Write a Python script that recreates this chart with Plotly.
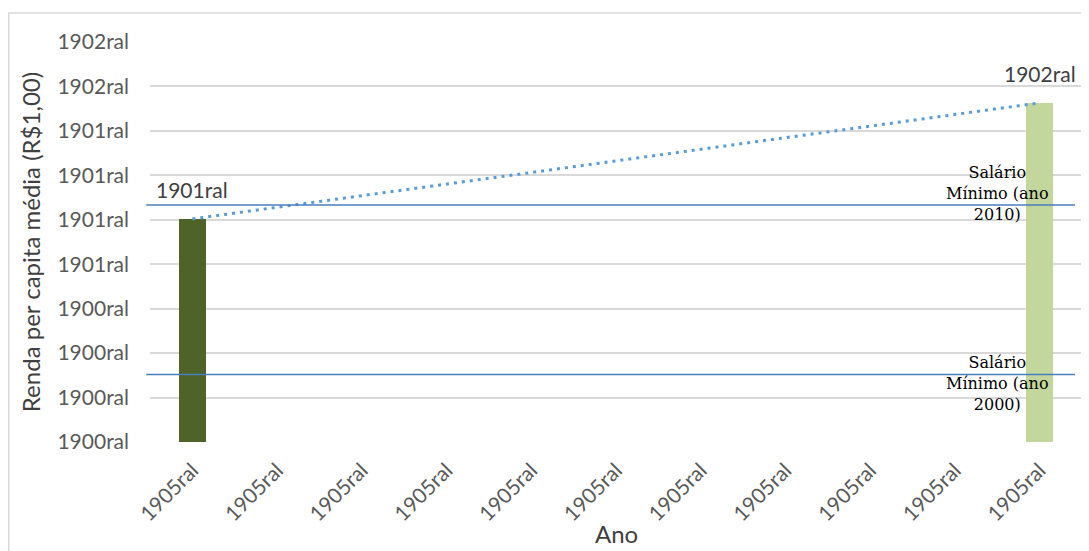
import numpy as np
import plotly.graph_objects as go

# ---- data ----
x_positions = list(range(11))
x_tick_labels = ["1905ral"] * 11
y_tick_values = list(range(10))
y_tick_labels = ["1900ral", "1900ral", "1900ral", "1900ral", "1901ral",
                 "1901ral", "1901ral", "1901ral", "1902ral", "1902ral"]
renda_values = [5.02, None, None, None, None, None, None, None, None, None, 7.63]
renda_labels = ["1901ral", "", "", "", "", "", "", "", "", "", "1902ral"]
bar_colors = ["#4F6228"] + ["#4F6228"] * 9 + ["#C3D69B"]
salario_values = [5.33, 1.52]
salario_labels = ["Salário<br>Mínimo (ano<br>2010)", "Salário<br>Mínimo (ano<br>2000)"]

SANS = "Lato"
SERIF = "DejaVu Serif"

fig = go.Figure()

fig.add_trace(go.Bar(
    x=x_positions, y=[v if v is not None else 0 for v in renda_values],
    marker=dict(color=bar_colors, line=dict(width=0)),
    width=0.32, showlegend=False, hoverinfo="skip",
))

# linear trendline through the existing points
pts = [(xi, v) for xi, v in zip(x_positions, renda_values) if v is not None]
px_ = np.array([p[0] for p in pts], dtype=float)
py_ = np.array([p[1] for p in pts], dtype=float)
coef = np.polyfit(px_, py_, 1)
tx = np.array([px_.min(), px_.max()])
fig.add_trace(go.Scatter(
    x=tx, y=np.polyval(coef, tx), mode="lines",
    line=dict(color="#5B9BD5", width=3, dash="3px,5px"),
    showlegend=False, hoverinfo="skip",
))

# data labels
for xi, v, lab in zip(x_positions, renda_values, renda_labels):
    if v is not None and lab:
        fig.add_annotation(x=xi, y=v, text=lab, showarrow=False,
                           yanchor="bottom", yshift=15,
                           font=dict(family=SANS, size=21, color="#404040"))

# salario minimo lines + labels
for val, lab, ys in zip(salario_values, salario_labels, [12, -9]):
    fig.add_shape(type="line", xref="paper", yref="y",
                  x0=-0.004, x1=0.9925, y0=val, y1=val,
                  line=dict(color="#4A7EBB", width=1.5), layer="above")
    fig.add_annotation(x=9.5, y=val, text=lab, showarrow=False,
                       xanchor="center", yanchor="middle", yshift=ys, align="center",
                       font=dict(family=SERIF, size=16, color="#000000"))

# x axis title
fig.add_annotation(xref="paper", yref="paper", x=0.5, y=-0.228, text="Ano",
                   showarrow=False, xanchor="center", yanchor="middle",
                   font=dict(family=SANS, size=24, color="#404040"))

# outer border
fig.add_shape(type="rect", xref="paper", yref="paper",
              x0=-0.1515, x1=1.02, y0=-0.35, y1=1.0725,
              line=dict(color="#D9D9D9", width=1.5), layer="below")

fig.update_layout(
    width=1081, height=543,
    margin=dict(l=142, r=7, t=34, b=109, autoexpand=False),
    paper_bgcolor="white", plot_bgcolor="white",
    font=dict(family=SANS, color="#595959"),
    bargap=0,
)
fig.update_xaxes(
    range=[-0.5, 10.5], tickmode="array", tickvals=x_positions, ticktext=x_tick_labels,
    tickangle=-45, tickfont=dict(family=SANS, size=21, color="#595959"),
    showgrid=False, zeroline=False, showline=False, ticks="", automargin=False,
    ticklabelstandoff=11,
)
fig.update_yaxes(
    range=[0, 9], tickmode="array", tickvals=y_tick_values, ticktext=y_tick_labels,
    tickfont=dict(family=SANS, size=21, color="#595959"),
    showgrid=True, gridcolor="#D9D9D9", gridwidth=1.5, zeroline=False, showline=False,
    ticks="", ticklabelstandoff=20, automargin=False,
    title=dict(text="Renda per capita média (R$1,00)",
               font=dict(family=SANS, size=24, color="#404040"), standoff=10),
)

fig.write_html("out.html")
